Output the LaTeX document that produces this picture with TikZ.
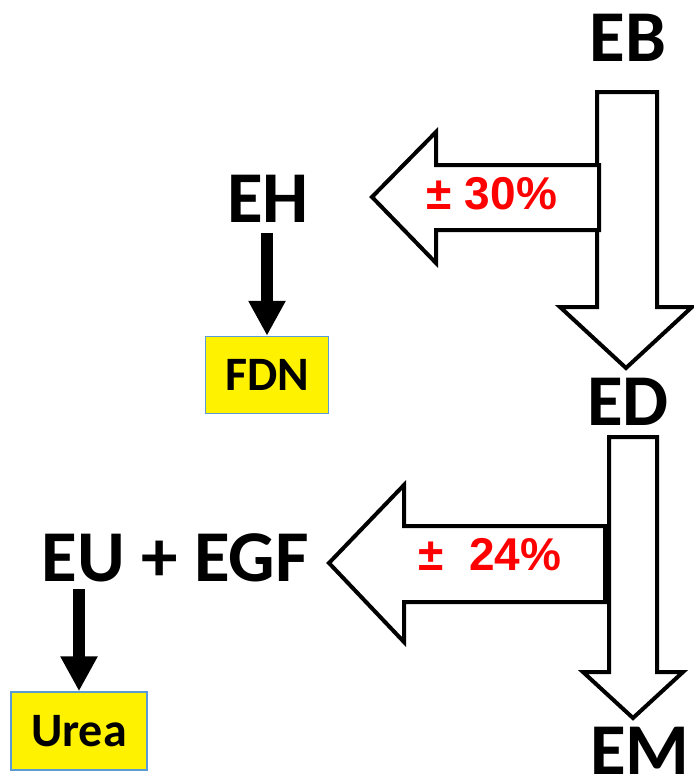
\documentclass[tikz,border=0pt]{standalone}
\usepackage{fontspec}
\setmainfont{Carlito}
\newfontfamily\pctfont{Liberation Sans}
\usetikzlibrary{arrows.meta}
\definecolor{boxblue}{RGB}{91,155,213}
\tikzset{
  lbl/.style={inner sep=0pt,font=\fontsize{73}{80}\selectfont\bfseries},
  pct/.style={inner sep=0pt,text=red,font=\pctfont\fontsize{46}{50}\selectfont\bfseries},
  sbox/.style={draw=boxblue,line width=1.5pt,fill=yellow,inner sep=0pt,font=\fontsize{48}{52}\selectfont\bfseries},
  flow/.style={draw=black,fill=white,line width=4pt,line join=miter},
  feed/.style={line width=12pt,-{Triangle[width=35pt,length=35pt]}}
}
\begin{document}
\begin{tikzpicture}[x=1pt,y=-1pt]
  \useasboundingbox (0,0) rectangle (694,780);
  % labels
  \node[lbl] (eb) at (628,38) {EB};
  \node[lbl] (eh) at (268,199) {EH};
  \node[lbl] (ed) at (628,402) {ED};
  \node[lbl] (eu) at (175,558) {EU + EGF};
  \node[lbl] (em) at (640,751) {EM};
  \node[sbox,minimum width=123pt,minimum height=77pt] (fdn) at (267,375) {FDN};
  \node[sbox,minimum width=136pt,minimum height=78pt] (urea) at (79,731) {Urea};
  % upper flow
  \draw[flow] (597,92) -- (657,92) -- (657,307) -- (692,307) -- (626,368)
    -- (560,307) -- (597,307) -- cycle;
  \draw[flow] (599,165) -- (599,230) -- (436,230) -- (436,263) -- (372,197)
    -- (436,132) -- (436,165) -- cycle;
  \node[pct] (p30) at (492,194) {± 30\%};
  % lower flow
  \draw[flow] (609,437) -- (657,437) -- (657,672) -- (683,672) -- (633,718)
    -- (583,672) -- (609,672) -- cycle;
  \draw[flow] (605,526) -- (605,602) -- (404,602) -- (404,642) -- (329,563)
    -- (404,485) -- (404,526) -- cycle;
  \node[pct] (p24) at (490,555) {±\ \ 24\%};
  % outputs
  \draw[feed,shorten <=10pt] (fdn.north |- eh.south) -- (fdn.north);
  \draw[feed,shorten <=7pt] (urea.north |- eu.south) -- (urea.north);
\end{tikzpicture}
\end{document}
